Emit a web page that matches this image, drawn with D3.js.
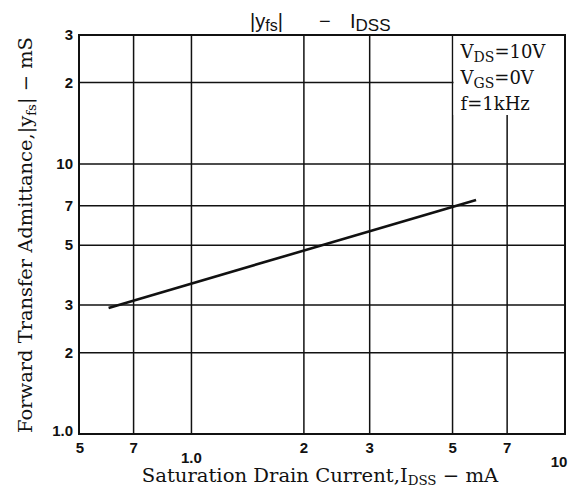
<!DOCTYPE html>
<html>
<head>
<meta charset="utf-8">
<script src="https://cdn.jsdelivr.net/npm/d3@7"></script>
<style>
body{margin:0;background:#fff;}
svg{display:block;}
.tick-lbl{font-family:"Liberation Sans",Arial,sans-serif;font-weight:bold;font-size:15px;fill:#111;}
.serif{font-family:"DejaVu Serif","Liberation Serif",serif;fill:#111;}
</style>
</head>
<body>
<div id="chart"></div>
<script>
// data
const curveIdss = [0.6, 5.78];      // mA
const curveYfs = [2.93, 7.35];      // mS
const xGrid = [0.7, 1, 2, 3, 5, 7];
const yGrid = [2, 3, 5, 7, 10, 20];
const xTicks = [0.5, 0.7, 1, 2, 3, 5, 7, 10];
const xTickLabels = ['5', '7', '1.0', '2', '3', '5', '7', '10'];
const yTicks = [1, 2, 3, 5, 7, 10, 20, 30];
const yTickLabels = ['1.0', '2', '3', '5', '7', '10', '2', '3'];
const conditions = [['V', 'DS', '=10V'], ['V', 'GS', '=0V'], ['f=1kHz']];

const width = 575, height = 489;
const margin = {t:35, r:10, b:55, l:79};
const w = width - margin.l - margin.r;
const h = height - margin.t - margin.b;

const svg = d3.select('#chart').append('svg')
	.attr('width', width)
	.attr('height', height);
const plot = svg.append('g')
	.attr('transform', `translate(${margin.l},${margin.t})`);

const scaleX = d3.scaleLog().domain([0.5, 10]).range([0, w]);
const scaleY = d3.scaleLog().domain([1, 30]).range([h, 0]);

// grid
plot.selectAll('.gx').data(xGrid).enter().append('line')
	.attr('class', 'gx')
	.attr('x1', d => scaleX(d)).attr('x2', d => scaleX(d))
	.attr('y1', 0).attr('y2', h)
	.style('stroke', '#111').style('stroke-width', 1.5);
plot.selectAll('.gy').data(yGrid).enter().append('line')
	.attr('class', 'gy')
	.attr('x1', 0).attr('x2', w)
	.attr('y1', d => scaleY(d)).attr('y2', d => scaleY(d))
	.style('stroke', '#111').style('stroke-width', 1.5);

// blank box for the test conditions (grid stops at the 5 mA line)
plot.append('rect')
	.attr('x', scaleX(5) + 1).attr('y', 0)
	.attr('width', w - scaleX(5) - 1).attr('height', 80)
	.style('fill', '#fff');

// frame
plot.append('rect')
	.attr('width', w).attr('height', h)
	.style('fill', 'none').style('stroke', '#111').style('stroke-width', 2);

// tick labels
plot.selectAll('.xl').data(xTicks).enter().append('text')
	.attr('class', 'tick-lbl')
	.attr('x', d => scaleX(d))
	.attr('y', (d, i) => h + (xTickLabels[i] === '1.0' ? 29 : xTickLabels[i] === '10' ? 33 : 19))
	.attr('text-anchor', 'middle')
	.attr('dx', (d, i) => i === 0 ? 1 : i === 7 ? -6 : 0)
	.text((d, i) => xTickLabels[i]);
plot.selectAll('.yl').data(yTicks).enter().append('text')
	.attr('class', 'tick-lbl')
	.attr('x', -6)
	.attr('y', d => scaleY(d) + 5)
	.attr('text-anchor', 'end')
	.attr('dy', d => d === 1 ? -3 : 0)
	.text((d, i) => yTickLabels[i]);

// curve
const line = d3.line().x(d => scaleX(d[0])).y(d => scaleY(d[1]));
plot.append('path')
	.datum(d3.zip(curveIdss, curveYfs))
	.attr('d', line)
	.style('fill', 'none').style('stroke', '#111').style('stroke-width', 2.6);

// conditions box
const cond = plot.append('text').attr('class', 'serif').style('font-size', '18px');
conditions.forEach((c, i) => {
	const t = cond.append('tspan').attr('x', scaleX(5) + 8).attr('y', 23 + i * 26);
	t.text(c[0]);
	if (c.length === 3) {
		cond.append('tspan').attr('dy', 4).style('font-size', '14px').text(c[1]);
		cond.append('tspan').attr('dy', -4).text(c[2]);
	}
});

// title
const title = svg.append('g')
	.style('font-family', '"Liberation Sans",Arial,sans-serif')
	.style('fill', '#111');
const t1 = title.append('text').attr('x', 250).attr('y', 28).style('font-size', '20px');
t1.append('tspan').text('|y');
t1.append('tspan').attr('dy', 3).style('font-size', '16px').text('fs');
t1.append('tspan').attr('dy', -3).text('|');
title.append('text').attr('x', 319).attr('y', 28).style('font-size', '20px').text('−');
const t2 = title.append('text').attr('x', 350).attr('y', 28).style('font-size', '20px');
t2.append('tspan').text('I');
t2.append('tspan').attr('dy', 3).style('font-size', '17px').text('DSS');

// axis titles, stretched to the width seen in the picture
function fitWidth(sel, target, cx, cy, rot) {
	const bw = sel.node().getBBox().width;
	sel.attr('transform', `translate(${cx},${cy}) rotate(${rot}) scale(${target / bw},1)`);
}
const xt = svg.append('text').attr('class', 'serif')
	.attr('text-anchor', 'middle').style('font-size', '19px');
xt.append('tspan').text('Saturation Drain Current,I');
xt.append('tspan').attr('dy', 3).style('font-size', '13px').text('DSS');
xt.append('tspan').attr('dy', -3).text(' − mA');
fitWidth(xt, 357, 320, 482, 0);

const yt = svg.append('text').attr('class', 'serif')
	.attr('text-anchor', 'middle').style('font-size', '19px');
yt.append('tspan').text('Forward Transfer Admittance,|y');
yt.append('tspan').attr('dy', 4).style('font-size', '13px').text('fs');
yt.append('tspan').attr('dy', -4).text('| − mS');
fitWidth(yt, 396, 32, 235, -90);
</script>
</body>
</html>
